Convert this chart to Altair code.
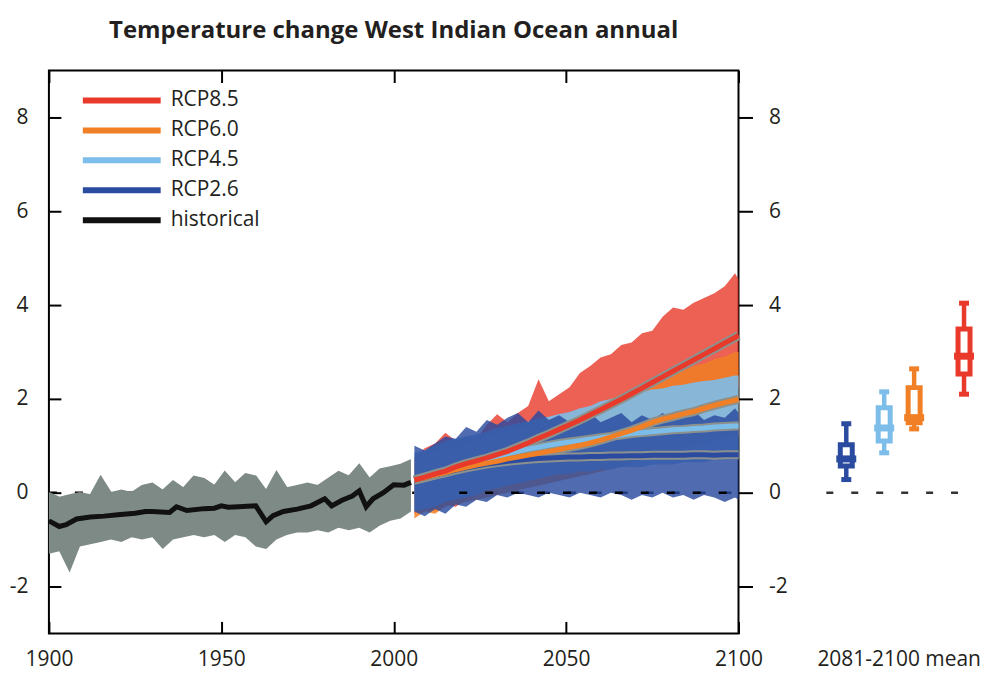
import altair as alt
import pandas as pd

# ---------------- data ----------------
scenarios = ["RCP8.5", "RCP6.0", "RCP4.5", "RCP2.6", "historical"]
colors = ["#e8392b", "#f07f26", "#7cbde9", "#2a4b9f", "#111111"]
grey_ens = "#7e8a85"

# historical ensemble envelope (every 3 years, 1900-2005)
hist_band_years = list(range(1900, 2006, 3))
hist_upper = [0.00, -0.10, -0.05, 0.00, -0.05, 0.35, 0.00, 0.05, 0.00, 0.15, 0.20, 0.05,
              0.25, 0.10, 0.35, 0.30, 0.15, 0.45, 0.20, 0.40, 0.35, 0.05, 0.45, 0.10,
              0.15, 0.20, 0.15, 0.30, 0.45, 0.35, 0.60, 0.30, 0.50, 0.55, 0.60, 0.70]
hist_lower = [-1.30, -1.25, -1.70, -1.15, -1.10, -1.05, -1.00, -1.05, -0.95, -1.00, -0.95, -1.20,
              -1.00, -0.95, -0.90, -0.95, -0.90, -1.05, -0.90, -0.95, -1.15, -1.20, -1.00, -0.90,
              -0.85, -0.85, -0.80, -0.85, -0.75, -0.80, -0.75, -0.85, -0.70, -0.60, -0.55, -0.40]

# historical multi-model mean
hist_mean_years = [1900, 1903, 1905, 1908, 1912, 1916, 1920, 1925, 1928, 1930, 1935, 1937,
                   1940, 1945, 1948, 1950, 1952, 1955, 1960, 1963, 1965, 1968, 1972, 1976,
                   1980, 1982, 1985, 1988, 1990, 1992, 1994, 1997, 2000, 2003, 2005]
hist_mean = [-0.60, -0.72, -0.68, -0.56, -0.52, -0.50, -0.47, -0.44, -0.40, -0.40, -0.42, -0.30,
             -0.38, -0.34, -0.33, -0.28, -0.31, -0.30, -0.28, -0.62, -0.49, -0.40, -0.35, -0.28,
             -0.13, -0.28, -0.16, -0.07, 0.04, -0.30, -0.13, 0.00, 0.17, 0.16, 0.22]

# projections (every 3 years, 2006-2100)
fut_years = list(range(2006, 2100, 3)) + [2100]
mean_85 = [0.27, 0.33, 0.40, 0.46, 0.55, 0.62, 0.68, 0.74, 0.81, 0.88, 0.97, 1.06, 1.16, 1.25, 1.35, 1.45,
           1.55, 1.66, 1.77, 1.88, 1.99, 2.11, 2.23, 2.35, 2.47, 2.59, 2.71, 2.83, 2.95, 3.07, 3.19, 3.31, 3.35]
mean_60 = [0.27, 0.32, 0.38, 0.43, 0.49, 0.54, 0.59, 0.63, 0.67, 0.72, 0.76, 0.80, 0.84, 0.88, 0.92, 0.97,
           1.01, 1.06, 1.12, 1.19, 1.26, 1.33, 1.41, 1.50, 1.57, 1.62, 1.68, 1.73, 1.80, 1.86, 1.92, 1.97, 2.00]
mean_45 = [0.27, 0.33, 0.39, 0.45, 0.52, 0.58, 0.64, 0.71, 0.77, 0.83, 0.88, 0.93, 0.97, 1.01, 1.05, 1.08,
           1.11, 1.14, 1.17, 1.20, 1.23, 1.26, 1.28, 1.30, 1.32, 1.34, 1.35, 1.37, 1.38, 1.40, 1.41, 1.42, 1.42]
mean_26 = [0.27, 0.32, 0.38, 0.43, 0.48, 0.53, 0.57, 0.61, 0.64, 0.67, 0.69, 0.71, 0.73, 0.74, 0.75, 0.76,
           0.76, 0.77, 0.77, 0.78, 0.78, 0.79, 0.79, 0.80, 0.80, 0.80, 0.80, 0.81, 0.81, 0.80, 0.81, 0.81, 0.81]

up_85 = [0.75, 0.95, 1.05, 1.28, 1.10, 1.20, 1.15, 1.45, 1.67, 1.50, 1.70, 1.85, 2.42, 1.95, 2.10, 2.25,
         2.55, 2.70, 2.88, 2.95, 3.15, 3.20, 3.40, 3.45, 3.75, 3.95, 3.90, 4.05, 4.15, 4.25, 4.40, 4.68, 4.55]
lo_85 = [-0.45, -0.35, -0.40, -0.25, -0.30, -0.15, -0.05, 0.05, 0.10, 0.20, 0.25, 0.35, 0.45, 0.55, 0.65, 0.75,
         0.85, 0.95, 1.05, 1.15, 1.25, 1.35, 1.45, 1.55, 1.65, 1.75, 1.80, 1.90, 2.00, 2.05, 2.15, 2.20, 2.25]
up_60 = [0.70, 0.80, 0.85, 0.95, 0.95, 1.05, 1.10, 1.20, 1.25, 1.30, 1.35, 1.40, 1.50, 1.55, 1.60, 1.70,
         1.75, 1.85, 1.90, 2.00, 2.10, 2.20, 2.30, 2.40, 2.45, 2.55, 2.60, 2.70, 2.75, 2.85, 2.90, 3.00, 3.00]
lo_60 = [-0.55, -0.40, -0.45, -0.30, -0.25, -0.20, -0.15, -0.10, -0.05, 0.00, 0.05, 0.10, 0.15, 0.20, 0.25, 0.30,
         0.35, 0.40, 0.45, 0.50, 0.55, 0.65, 0.70, 0.80, 0.85, 0.90, 0.95, 1.00, 1.05, 1.10, 1.15, 1.20, 1.20]
up_45 = [0.85, 0.90, 1.00, 1.10, 1.15, 1.20, 1.25, 1.30, 1.38, 1.42, 1.48, 1.52, 1.58, 1.62, 1.68, 1.72,
         1.80, 1.85, 1.95, 2.00, 2.05, 2.10, 2.15, 2.20, 2.22, 2.28, 2.30, 2.35, 2.38, 2.40, 2.45, 2.50, 2.50]
lo_45 = [-0.40, -0.35, -0.30, -0.20, -0.15, -0.10, -0.05, 0.05, 0.10, 0.15, 0.20, 0.25, 0.30, 0.35, 0.40, 0.40,
         0.45, 0.45, 0.50, 0.50, 0.55, 0.55, 0.55, 0.60, 0.60, 0.60, 0.65, 0.65, 0.65, 0.70, 0.70, 0.70, 0.70]
up_26 = [1.00, 0.90, 1.05, 1.20, 1.15, 1.40, 1.30, 1.55, 1.45, 1.60, 1.70, 1.50, 1.75, 1.55, 1.65, 1.50,
         1.60, 1.70, 1.50, 1.60, 1.70, 1.50, 1.65, 1.55, 1.70, 1.55, 1.60, 1.75, 1.55, 1.65, 1.60, 1.80, 1.70]
lo_26 = [-0.40, -0.50, -0.35, -0.45, -0.25, -0.30, -0.15, -0.20, -0.05, -0.10, 0.00, -0.05, -0.10, 0.00, -0.05, -0.10,
         0.00, -0.05, -0.10, 0.00, -0.05, -0.15, -0.05, -0.10, 0.00, -0.10, -0.05, -0.15, -0.05, -0.10, -0.20, -0.10, -0.15]

# 2081-2100 mean box plots (x position = radiative forcing of the scenario)
box_names = ["RCP2.6", "RCP4.5", "RCP6.0", "RCP8.5"]
box_forcing = [2.6, 4.5, 6.0, 8.5]
box_colors = ["#2a4b9f", "#7cbde9", "#f07f26", "#e8392b"]
box_min = [0.28, 0.85, 1.36, 2.10]
box_q1 = [0.57, 1.10, 1.49, 2.53]
box_med = [0.72, 1.38, 1.60, 2.91]
box_q3 = [1.02, 1.81, 2.24, 3.49]
box_max = [1.47, 2.15, 2.64, 4.04]

# ---------------- tables ----------------
hist_band = pd.DataFrame({"year": hist_band_years, "hi": hist_upper, "lo": hist_lower})

fut = {
    "RCP8.5": (mean_85, up_85, lo_85),
    "RCP6.0": (mean_60, up_60, lo_60),
    "RCP4.5": (mean_45, up_45, lo_45),
    "RCP2.6": (mean_26, up_26, lo_26),
}
color_of = dict(zip(scenarios, colors))

mean_rows = [{"year": y, "value": v, "scenario": "historical"} for y, v in zip(hist_mean_years, hist_mean)]
for name in ["RCP2.6", "RCP4.5", "RCP6.0", "RCP8.5"]:
    mean_rows += [{"year": y, "value": v, "scenario": name} for y, v in zip(fut_years, fut[name][0])]
means = pd.DataFrame(mean_rows)
fut_means = means[means.scenario != "historical"]

boxes = pd.DataFrame({"name": box_names, "f": box_forcing, "color": box_colors, "lo": box_min,
                      "q1": box_q1, "med": box_med, "q3": box_q3, "hi": box_max})

FONT = "Open Sans"
TXT = "#231f20"
xs = alt.Scale(domain=[1900, 2100], nice=False, zero=False)
ys = alt.Scale(domain=[-3, 9], nice=False, zero=False)
hyphen = "datum.value < 0 ? '-' + abs(datum.value) : datum.label"

ax_bottom = alt.Axis(orient="bottom", values=[1900, 1950, 2000, 2050, 2100], format="d", title=None,
                     domain=False, grid=False, offset=-12, tickSize=12, tickWidth=2, tickColor="black",
                     labelPadding=15, labelFontSize=21, labelFlush=False)
ax_top = alt.Axis(orient="top", values=[1900, 1950, 2000, 2050, 2100], title=None, labels=False,
                  domain=False, grid=False, offset=-12, tickSize=12, tickWidth=2, tickColor="black")
ax_left = alt.Axis(orient="left", values=[-2, 0, 2, 4, 6, 8], title=None, domain=False, grid=False,
                   offset=-12, tickSize=12, tickWidth=2, tickColor="black", labelPadding=21,
                   labelFontSize=21, labelExpr=hyphen)
ax_right = alt.Axis(orient="right", values=[-2, 0, 2, 4, 6, 8], title=None, domain=False, grid=False,
                    tickSize=14, tickWidth=2, tickColor="black", labelPadding=16, labelFontSize=21,
                    labelExpr=hyphen)

layers = []

# zero line beneath the historical ensemble
zero_df = pd.DataFrame({"x": [1900], "x2": [2100], "y": [0]})
layers.append(alt.Chart(zero_df).mark_rule(color="black", strokeWidth=2.5, strokeDash=[8, 18]).encode(
    x=alt.X("x:Q", scale=xs, axis=None), x2="x2", y=alt.Y("y:Q", scale=ys, axis=None)))

# historical ensemble envelope
layers.append(alt.Chart(hist_band).mark_area(color=grey_ens, opacity=1).encode(
    x=alt.X("year:Q", scale=xs, axis=ax_bottom),
    y=alt.Y("hi:Q", scale=ys, axis=ax_left), y2="lo"))
layers.append(alt.Chart(hist_band).mark_line(color=grey_ens, strokeWidth=1.5).encode(
    x=alt.X("year:Q", scale=xs, axis=ax_top),
    y=alt.Y("hi:Q", scale=ys, axis=ax_right)))

# projection envelopes
opac = {"RCP8.5": 0.8, "RCP6.0": 0.85, "RCP4.5": 0.9, "RCP2.6": 0.82}
for name in ["RCP8.5", "RCP6.0", "RCP4.5", "RCP2.6"]:
    m, up, lo = fut[name]
    df = pd.DataFrame({"year": fut_years, "hi": up, "lo": lo})
    layers.append(alt.Chart(df).mark_area(color=color_of[name], opacity=opac[name]).encode(
        x=alt.X("year:Q", scale=xs, axis=None),
        y=alt.Y("hi:Q", scale=ys, axis=None), y2="lo"))

# zero line visible through the projections
zero_df2 = pd.DataFrame({"x": [2019], "x2": [2100], "y": [0]})
layers.append(alt.Chart(zero_df2).mark_rule(color="black", strokeWidth=2.5, strokeDash=[8, 18]).encode(
    x=alt.X("x:Q", scale=xs, axis=None), x2="x2", y=alt.Y("y:Q", scale=ys, axis=None)))

# grey outline of the scenario means
layers.append(alt.Chart(fut_means).mark_line(color="#8c918d", strokeWidth=9).encode(
    x=alt.X("year:Q", scale=xs, axis=None),
    y=alt.Y("value:Q", scale=ys, axis=None), detail="scenario:N"))

# multi-model means with the legend (wide flat stroke symbol)
layers.append(alt.Chart(means).mark_line(strokeWidth=5).encode(
    x=alt.X("year:Q", scale=xs, axis=None),
    y=alt.Y("value:Q", scale=ys, axis=None),
    color=alt.Color("scenario:N", scale=alt.Scale(domain=scenarios, range=colors),
                    legend=alt.Legend(title=None, orient="none", legendX=60, legendY=17,
                                      symbolType="M-3.9,0H3.9", symbolSize=400, symbolStrokeWidth=6,
                                      labelFontSize=21, labelFont=FONT, labelColor=TXT,
                                      rowPadding=5, labelOffset=36))))

main = alt.layer(*layers).resolve_axis(x="independent", y="independent").properties(
    width=691, height=564,
    title=alt.TitleParams("Temperature change West Indian Ocean annual", fontSize=24, font=FONT,
                          fontWeight="bold", color=TXT, anchor="middle", offset=27))

# ---------------- right panel: 2081-2100 means ----------------
fs = alt.Scale(domain=[1.05, 9.4], nice=False, zero=False, padding=0)
ax_panel = alt.Axis(title="2081-2100 mean", labels=False, ticks=False, domain=False, grid=False,
                    titleFontSize=21, titleFontWeight="normal", titleFont=FONT, titleColor=TXT,
                    titlePadding=15)
zero_df3 = pd.DataFrame({"x": [1.6], "x2": [8.9], "y": [0]})
p_zero = alt.Chart(zero_df3).mark_rule(color="#333333", strokeWidth=2.5, strokeDash=[7, 18]).encode(
    x=alt.X("x:Q", scale=fs, axis=ax_panel), x2="x2", y=alt.Y("y:Q", scale=ys, axis=None))
p_whisk = alt.Chart(boxes).mark_rule(strokeWidth=4.5).encode(
    x=alt.X("f:Q", scale=fs, axis=None), y=alt.Y("lo:Q", scale=ys, axis=None), y2="hi",
    color=alt.Color("color:N", scale=None))
p_cap_lo = alt.Chart(boxes).mark_tick(orient="horizontal", size=10, thickness=5, opacity=1).encode(
    x=alt.X("f:Q", scale=fs, axis=None), y=alt.Y("lo:Q", scale=ys, axis=None),
    color=alt.Color("color:N", scale=None))
p_cap_hi = alt.Chart(boxes).mark_tick(orient="horizontal", size=10, thickness=5, opacity=1).encode(
    x=alt.X("f:Q", scale=fs, axis=None), y=alt.Y("hi:Q", scale=ys, axis=None),
    color=alt.Color("color:N", scale=None))
p_box = alt.Chart(boxes).mark_bar(width=12, fill="white", strokeWidth=5, opacity=1).encode(
    x=alt.X("f:Q", scale=fs, axis=None), y=alt.Y("q1:Q", scale=ys, axis=None), y2="q3",
    stroke=alt.Stroke("color:N", scale=None))
p_med = alt.Chart(boxes).mark_tick(orient="horizontal", size=20, thickness=7, opacity=1).encode(
    x=alt.X("f:Q", scale=fs, axis=None), y=alt.Y("med:Q", scale=ys, axis=None),
    color=alt.Color("color:N", scale=None))

panel = alt.layer(p_zero, p_whisk, p_cap_lo, p_cap_hi, p_box, p_med).resolve_axis(
    x="independent", y="independent").properties(
    width=167, height=564, view=alt.ViewBackground(strokeOpacity=0))

chart = alt.hconcat(main, panel, spacing=27).resolve_scale(color="independent").configure(
    padding={"left": 0, "top": 9, "right": 0, "bottom": 0}, background="white"
).configure_view(stroke="black", strokeWidth=2).configure_axis(
    labelFont=FONT, titleFont=FONT, labelColor=TXT)

chart.save("out.html", embed_options={"renderer": "svg", "actions": False})
